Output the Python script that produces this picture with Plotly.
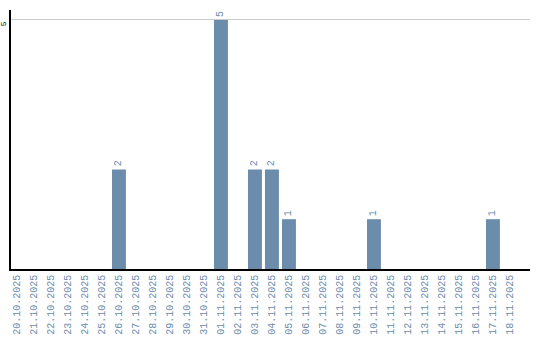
import plotly.graph_objects as go

dates = ["20.10.2025","21.10.2025","22.10.2025","23.10.2025","24.10.2025","25.10.2025",
         "26.10.2025","27.10.2025","28.10.2025","29.10.2025","30.10.2025","31.10.2025",
         "01.11.2025","02.11.2025","03.11.2025","04.11.2025","05.11.2025","06.11.2025",
         "07.11.2025","08.11.2025","09.11.2025","10.11.2025","11.11.2025","12.11.2025",
         "13.11.2025","14.11.2025","15.11.2025","16.11.2025","17.11.2025","18.11.2025"]
counts = [0,0,0,0,0,0,2,0,0,0,0,0,5,0,2,2,1,0,0,0,0,1,0,0,0,0,0,0,1,0]

bar_color = "#6b8cab"
labels = [str(c) if c > 0 else "" for c in counts]
font_family = "Liberation Mono"

fig = go.Figure(go.Bar(
    x=list(range(len(dates))), y=counts,
    marker=dict(color=bar_color, line=dict(width=0)),
    width=0.82,
    text=labels, textposition="outside", textangle=-90,
    textfont=dict(family=font_family, size=10, color=bar_color),
    cliponaxis=False,
))

fig.update_layout(
    width=540, height=340,
    margin=dict(l=11, r=10, t=10, b=71),
    plot_bgcolor="white", paper_bgcolor="white",
    showlegend=False,
    font=dict(family=font_family, size=10),
    xaxis=dict(
        tickmode="array", tickvals=list(range(len(dates))), ticktext=dates,
        tickangle=-90, range=[-0.35, 30.18], automargin=False,
        showgrid=False, zeroline=False,
        showline=True, linecolor="black", linewidth=1.5,
        ticks="", ticklen=0, tickfont=dict(family=font_family, size=10, color=bar_color),
    ),
    yaxis=dict(
        range=[0, 5.2], tickmode="array", tickvals=[5], ticktext=["5"],
        tickangle=-90, automargin=False, showgrid=True, gridcolor="#cccccc", gridwidth=1,
        zeroline=False, showline=True, linecolor="black", linewidth=1.5,
        ticks="", ticklabelshift=5,
        tickfont=dict(family=font_family, size=8, color="black"),
    ),
)

fig.write_html("out.html")
